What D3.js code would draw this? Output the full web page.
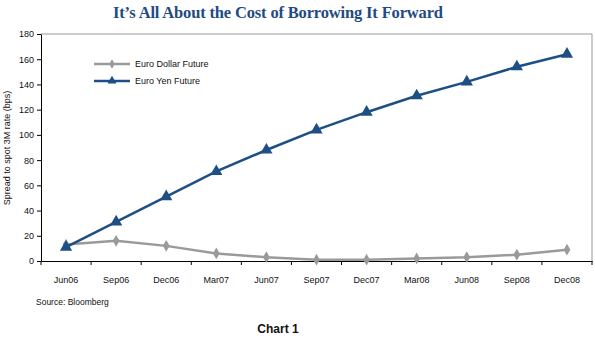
<!DOCTYPE html>
<html><head><meta charset="utf-8">
<script src="https://cdn.jsdelivr.net/npm/d3@7"></script>
<style>body{margin:0;background:#fff}svg{display:block}</style>
</head><body>
<script>
const categories = ["Jun06","Sep06","Dec06","Mar07","Jun07","Sep07","Dec07","Mar08","Jun08","Sep08","Dec08"];
const euroDollar = [13,16,12,6,3,1,1,2,3,5,9];
const euroYen = [11,31,51,71,88,104,118,131,142,154,164];
const yTicks = [0,20,40,60,80,100,120,140,160,180];
const seriesNames = ["Euro Dollar Future","Euro Yen Future"];

const W=595,H=339;
const svg=d3.select("body").append("svg").attr("width",W).attr("height",H);
const L=41,R=592,T=34,B=261;
const x=d3.scaleBand().domain(categories).range([L,R]);
const y=d3.scaleLinear().domain([0,180]).range([B,T]);
const font="Liberation Sans, Arial, sans-serif";

svg.append("text").attr("x",278).attr("y",18).attr("text-anchor","middle")
 .attr("font-family","Liberation Serif, serif").attr("font-weight","bold").attr("font-size",16.5)
 .attr("textLength",330).attr("lengthAdjust","spacing")
 .attr("fill","#1f4b82").text("It’s All About the Cost of Borrowing It Forward");

svg.append("path").attr("d",`M${L},${T}H${R}V${B}`).attr("fill","none").attr("stroke","#999").attr("stroke-width",1);

const yAxis=svg.append("g").attr("transform",`translate(${L},0)`)
 .call(d3.axisLeft(y).tickValues(yTicks).tickSize(4).tickSizeOuter(0));
yAxis.selectAll("text").attr("font-family",font).attr("font-size",9).attr("fill","#111");
yAxis.select(".domain").attr("stroke","#000");
const xAxis=svg.append("g").attr("transform",`translate(0,${B})`)
 .call(d3.axisBottom(x).tickSize(0));
xAxis.select(".domain").attr("stroke","#000");
xAxis.selectAll("text").attr("font-family",font).attr("font-size",9).attr("fill","#111").attr("dy","2.1em");
const bounds=categories.map(c=>x(c)).concat([R]);
svg.append("g").selectAll("line").data(bounds).join("line")
 .attr("x1",d=>d).attr("x2",d=>d).attr("y1",B).attr("y2",B+4).attr("stroke","#000");

svg.append("text").attr("transform","translate(10,148) rotate(-90)").attr("text-anchor","middle")
 .attr("font-family",font).attr("font-size",9).attr("fill","#111").text("Spread to spot 3M rate (bps)");

const cx=c=>x(c)+x.bandwidth()/2;
const line=d3.line().x((d,i)=>cx(categories[i])).y(d=>y(d));
const gray="#9a9a9a", blue="#1d4f85";
svg.append("path").datum(euroDollar).attr("d",line).attr("fill","none").attr("stroke",gray).attr("stroke-width",2.5);
svg.append("g").selectAll("path").data(euroDollar).join("path")
 .attr("d",d3.symbol(d3.symbolDiamond,40)).attr("fill",gray)
 .attr("transform",(d,i)=>`translate(${cx(categories[i])},${y(d)})`);
svg.append("path").datum(euroYen).attr("d",line).attr("fill","none").attr("stroke",blue).attr("stroke-width",2.5);
svg.append("g").selectAll("path").data(euroYen).join("path")
 .attr("d",d3.symbol(d3.symbolTriangle,65)).attr("fill",blue)
 .attr("transform",(d,i)=>`translate(${cx(categories[i])},${y(d)})`);

const leg=[{n:seriesNames[0],c:gray,s:d3.symbolDiamond,sz:25},{n:seriesNames[1],c:blue,s:d3.symbolTriangle,sz:35}];
leg.forEach((l,i)=>{
  const ly=64+i*17;
  svg.append("line").attr("x1",94).attr("x2",130).attr("y1",ly).attr("y2",ly).attr("stroke",l.c).attr("stroke-width",2.5);
  svg.append("path").attr("d",d3.symbol(l.s,l.sz)).attr("fill",l.c).attr("transform",`translate(112,${ly})`);
  svg.append("text").attr("x",135).attr("y",ly+3).attr("font-family",font).attr("font-size",9).attr("fill","#111").text(l.n);
});

svg.append("text").attr("x",36).attr("y",305).attr("font-family",font).attr("font-size",8.5).attr("fill","#111").text("Source: Bloomberg");
svg.append("text").attr("x",278).attr("y",333).attr("text-anchor","middle").attr("font-family",font).attr("font-weight","bold").attr("font-size",12).attr("fill","#111").text("Chart 1");
</script>
</body></html>
